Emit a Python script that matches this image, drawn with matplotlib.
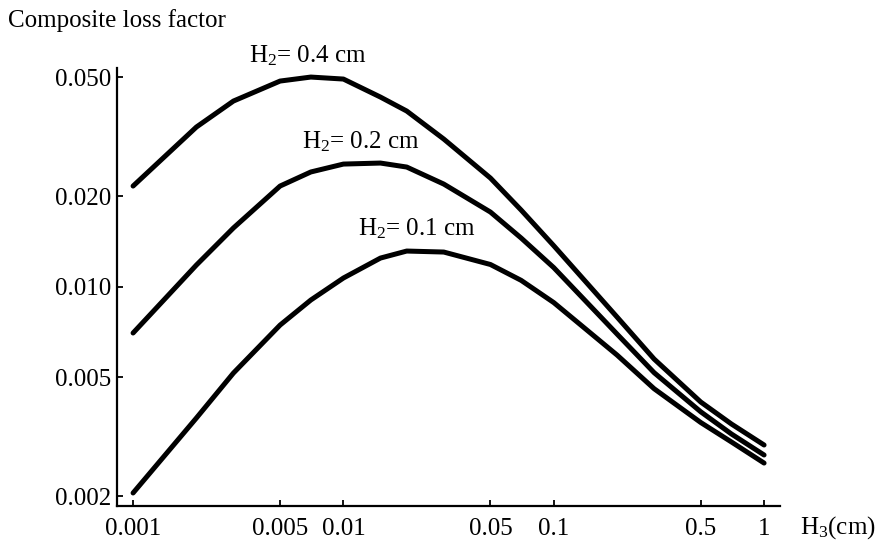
import matplotlib
matplotlib.use('Agg')
import matplotlib.pyplot as plt
from matplotlib.ticker import FixedLocator, FixedFormatter, NullLocator

plt.rcParams['font.family'] = ['Liberation Serif', 'DejaVu Serif']
plt.rcParams['mathtext.fontset'] = 'custom'
plt.rcParams['mathtext.rm'] = 'Liberation Serif'
plt.rcParams['mathtext.it'] = 'Liberation Serif:italic'

# layer thickness H3 (cm)
h3 = [0.001, 0.002, 0.003, 0.005, 0.007, 0.01, 0.015, 0.02, 0.03,
      0.05, 0.07, 0.1, 0.2, 0.3, 0.5, 0.7, 1.0]

# composite loss factor for each H2
eta_h2_04 = [0.02166, 0.03407, 0.04159, 0.04849, 0.05000, 0.04924, 0.04288,
             0.03852, 0.03107, 0.02303, 0.01801, 0.01370, 0.007924, 0.005741,
             0.004127, 0.003485, 0.002967]
eta_h2_02 = [0.00701, 0.01181, 0.01570, 0.02166, 0.02413, 0.02564, 0.02584,
             0.02506, 0.02199, 0.01774, 0.01453, 0.01158, 0.006953, 0.005170,
             0.003828, 0.003228, 0.002748]
eta_h2_01 = [0.002053, 0.00365, 0.005155, 0.00745, 0.00903, 0.01069, 0.01246,
             0.01315, 0.01305, 0.01186, 0.01050, 0.008854, 0.005918, 0.004571,
             0.003526, 0.003036, 0.002583]

x_ticks = [0.001, 0.005, 0.01, 0.05, 0.1, 0.5, 1]
x_labels = ['0.001', '0.005', '0.01', '0.05', '0.1', '0.5', '1']
y_ticks = [0.002, 0.005, 0.01, 0.02, 0.05]
y_labels = ['0.002', '0.005', '0.010', '0.020', '0.050']

fig = plt.figure(figsize=(8.84, 5.44), dpi=100)
ax = fig.add_axes([0.1324, 0.0699, 0.75, 0.805])

for eta in (eta_h2_04, eta_h2_02, eta_h2_01):
    ax.plot(h3, eta, color='black', lw=3.6, solid_capstyle='round',
            solid_joinstyle='round')

ax.set_xscale('log')
ax.set_yscale('log')
ax.set_xlim(0.000839, 1.191)
ax.set_ylim(0.001858, 0.05358)

ax.xaxis.set_major_locator(FixedLocator(x_ticks))
ax.xaxis.set_major_formatter(FixedFormatter(x_labels))
ax.yaxis.set_major_locator(FixedLocator(y_ticks))
ax.yaxis.set_major_formatter(FixedFormatter(y_labels))
ax.xaxis.set_minor_locator(NullLocator())
ax.yaxis.set_minor_locator(NullLocator())

for side in ('top', 'right'):
    ax.spines[side].set_visible(False)
for side in ('left', 'bottom'):
    ax.spines[side].set_linewidth(1.6)

ax.tick_params(direction='in', length=4.5, width=1.3, labelsize=18,
               colors='black')
ax.tick_params(axis='x', pad=9)
ax.tick_params(axis='y', pad=4)

fig.text(0.009, 0.963, 'Composite loss factor', fontsize=18,
         ha='left', va='center')
fig.text(0.905, 0.0294, r'$\mathregular{H_3}$(cm)', fontsize=18,
         ha='left', va='center')

ax.text(0.003561, 0.0561, r'$\mathregular{H_2}$= 0.4 cm', fontsize=18,
        ha='left', va='baseline')
ax.text(0.00636, 0.0290, r'$\mathregular{H_2}$= 0.2 cm', fontsize=18,
        ha='left', va='baseline')
ax.text(0.01175, 0.01487, r'$\mathregular{H_2}$= 0.1 cm', fontsize=18,
        ha='left', va='baseline')

fig.savefig('out.png', dpi=100)
